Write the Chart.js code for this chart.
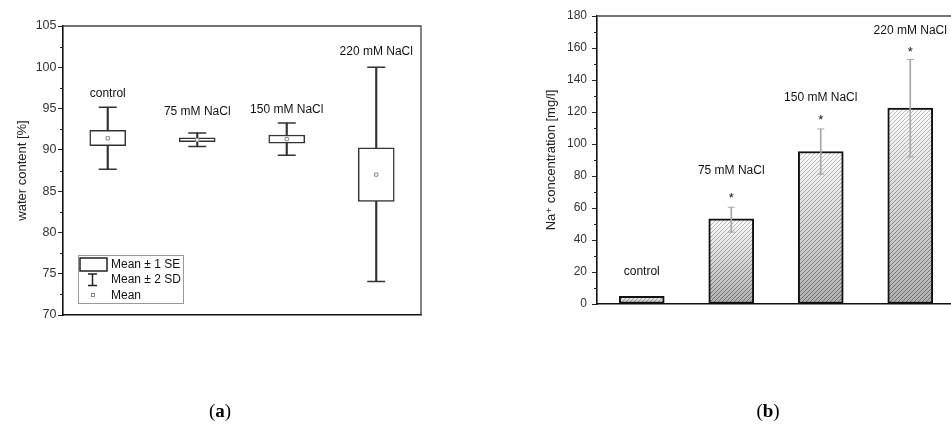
<!DOCTYPE html>
<html><head><meta charset="utf-8">
<script src="https://cdn.jsdelivr.net/npm/chart.js@4.4.1/dist/chart.umd.min.js"></script>
<style>
html,body{margin:0;padding:0;background:#fff;overflow:hidden;}
#wrap{position:relative;width:951px;height:426px;overflow:hidden;background:#fff;}
#ca{position:absolute;left:0;top:0;}
#cb{position:absolute;left:480px;top:0;}
.cap{position:absolute;top:400px;font-family:'Liberation Serif','DejaVu Serif',serif;font-size:19px;color:#000;transform:translateX(-50%);white-space:nowrap;}
</style></head><body>
<div id="wrap">
<canvas id="ca" width="470" height="426" style="width:470px;height:426px"></canvas>
<canvas id="cb" width="480" height="426" style="width:480px;height:426px"></canvas>
<div class="cap" style="left:220px">(<b>a</b>)</div>
<div class="cap" style="left:768px">(<b>b</b>)</div>
</div>
<script>
// ---------- data ----------
const categories = ['control', '75 mM NaCl', '150 mM NaCl', '220 mM NaCl'];

// panel (a): water content [%]
const waterMean   = [91.4, 91.2, 91.3, 87.0];
const waterSeLow  = [90.5, 91.0, 90.8, 83.75];
const waterSeHigh = [92.35, 91.45, 91.8, 90.25];
const waterSdLow  = [87.65, 90.4, 89.35, 74.05];
const waterSdHigh = [95.15, 92.05, 93.25, 100.0];
const waterLabelY = [96.8, 94.6, 94.85, 101.9];
const waterTicks  = [70, 75, 80, 85, 90, 95, 100, 105];
const waterMinor  = [72.5, 77.5, 82.5, 87.5, 92.5, 97.5, 102.5];
const legendLabels = ['Mean \u00b1 1 SE', 'Mean \u00b1 2 SD', 'Mean'];

// panel (b): Na+ concentration [mg/l]
const naMean    = [4.8, 53.3, 95.3, 122.5];
const naErrLow  = [null, 44.9, 81.1, 91.9];
const naErrHigh = [null, 60.5, 109.4, 152.8];
const naLabelY  = [20.4, 83.2, 128.9, 171.0];
const naStarY   = [null, 68.6, 117.3, 159.7];
const naTicks   = [0, 20, 40, 60, 80, 100, 120, 140, 160, 180];
const naMinor   = [10, 30, 50, 70, 90, 110, 130, 150, 170];

// ---------- helpers ----------
const FONT = "'Liberation Sans', Arial, 'DejaVu Sans', sans-serif";
Chart.defaults.font.family = FONT;
Chart.defaults.color = '#222';

function minorTicksPlugin(values, len) {
  return { id: 'minorTicks', afterDraw(chart) {
    const y = chart.scales.y, ctx = chart.ctx, x0 = chart.chartArea.left;
    ctx.save(); ctx.strokeStyle = '#222'; ctx.lineWidth = 1;
    values.forEach(v => {
      const p = Math.round(y.getPixelForValue(v)) + 0.5;
      ctx.beginPath(); ctx.moveTo(x0 - len, p); ctx.lineTo(x0, p); ctx.stroke();
    });
    ctx.restore();
  }};
}
function framePlugin(drawRight) {
  return { id: 'frame', afterDraw(chart) {
    const a = chart.chartArea, ctx = chart.ctx;
    ctx.save(); ctx.strokeStyle = '#444'; ctx.lineWidth = 1.3;
    ctx.beginPath(); ctx.moveTo(a.left, a.top); ctx.lineTo(a.right, a.top);
    if (drawRight) { ctx.lineTo(a.right, a.bottom); }
    ctx.stroke(); ctx.restore();
  }};
}
function labelsPlugin(texts, ys, stars, starYs) {
  return { id: 'catLabels', afterDatasetsDraw(chart) {
    const x = chart.scales.x, y = chart.scales.y, ctx = chart.ctx;
    ctx.save(); ctx.fillStyle = '#111'; ctx.textAlign = 'center';
    ctx.font = '12px ' + FONT; ctx.textBaseline = 'middle';
    texts.forEach((t, i) => ctx.fillText(t, x.getPixelForValue(i), y.getPixelForValue(ys[i])));
    if (starYs) {
      ctx.font = '13px ' + FONT; ctx.textBaseline = 'alphabetic';
      starYs.forEach((v, i) => { if (v != null) ctx.fillText('*', x.getPixelForValue(i), y.getPixelForValue(v) + 8); });
    }
    ctx.restore();
  }};
}
const legendPlugin = { id: 'boxLegend', afterDraw(chart) {
  const ctx = chart.ctx;
  ctx.save();
  ctx.strokeStyle = '#999'; ctx.lineWidth = 1;
  ctx.strokeRect(78.5, 255.5, 105, 48);
  ctx.strokeStyle = '#222'; ctx.lineWidth = 1.5;
  ctx.strokeRect(80, 258, 27, 13);
  ctx.beginPath();
  ctx.moveTo(88, 274); ctx.lineTo(97, 274);
  ctx.moveTo(92.5, 274); ctx.lineTo(92.5, 285.5);
  ctx.moveTo(88, 285.5); ctx.lineTo(97, 285.5);
  ctx.stroke();
  ctx.strokeStyle = '#888'; ctx.lineWidth = 1;
  ctx.strokeRect(91.5, 293.5, 3, 3);
  ctx.fillStyle = '#111'; ctx.font = '12px ' + FONT; ctx.textBaseline = 'middle'; ctx.textAlign = 'left';
  ctx.fillText(legendLabels[0], 111, 264.5);
  ctx.fillText(legendLabels[1], 111, 280);
  ctx.fillText(legendLabels[2], 111, 295.5);
  ctx.restore();
}};

function yAxis(min, max, ticksArr, title, titlePad, width, tickPad, fontSize) {
  return {
    min, max,
    afterBuildTicks: s => { s.ticks = ticksArr.map(v => ({ value: v })); },
    afterFit: s => { s.width = width; },
    ticks: { color: '#333', font: { size: fontSize }, padding: tickPad },
    grid: { display: true, drawOnChartArea: false, drawTicks: true, tickLength: 5, tickColor: '#222', tickWidth: 1 },
    border: { display: true, color: '#111', width: 1.6 },
    title: { display: true, text: title, color: '#222', font: { size: 13 }, padding: { top: titlePad, bottom: 0 } }
  };
}
function xAxis() {
  return {
    offset: true,
    ticks: { display: false },
    grid: { display: true, drawOnChartArea: false, drawTicks: false },
    border: { display: true, color: '#111', width: 1.6 },
    afterFit: s => { s.height = 0; }
  };
}

// ---------- panel (a) ----------
new Chart(document.getElementById('ca'), {
  type: 'bar',
  data: {
    labels: categories,
    datasets: [
      { type: 'bar', label: 'whisker', data: categories.map((c, i) => [waterSdLow[i], waterSdHigh[i]]),
        backgroundColor: '#333', borderWidth: 0, barThickness: 1.5, grouped: false, order: 5 },
      { type: 'bar', label: 'Mean \u00b1 1 SE', data: categories.map((c, i) => [waterSeLow[i], waterSeHigh[i]]),
        backgroundColor: '#ffffff', borderColor: '#333', borderWidth: 1.5, borderSkipped: false,
        barThickness: 36, grouped: false, order: 4 },
      { type: 'line', label: 'capHigh', data: waterSdHigh, showLine: false, pointStyle: 'line',
        pointRadius: 9, pointHoverRadius: 9, pointBorderColor: '#333', pointBorderWidth: 1.5, order: 2 },
      { type: 'line', label: 'capLow', data: waterSdLow, showLine: false, pointStyle: 'line',
        pointRadius: 9, pointHoverRadius: 9, pointBorderColor: '#333', pointBorderWidth: 1.5, order: 2 },
      { type: 'line', label: 'Mean', data: waterMean, showLine: false, pointStyle: 'rect',
        pointRadius: 2.3, pointHoverRadius: 2.3, pointBackgroundColor: '#fff', pointBorderColor: '#888', pointBorderWidth: 1, order: 1 }
    ]
  },
  options: {
    responsive: false, animation: false, devicePixelRatio: 1,
    layout: { padding: { top: 26, left: 0, right: 49, bottom: 111 } },
    plugins: { legend: { display: false }, tooltip: { enabled: false } },
    scales: { x: xAxis(), y: yAxis(70, 105, waterTicks, 'water content [%]', 15, 63, 1.5, 12.5) }
  },
  plugins: [minorTicksPlugin(waterMinor, 3), framePlugin(true), labelsPlugin(categories, waterLabelY), legendPlugin]
});

// ---------- panel (b) ----------
function hatchFill(ctx) {
  const chart = ctx.chart;
  if (ctx.type !== 'data' || !chart.chartArea || !chart.scales.y) return '#d0d0d0';
  const y = chart.scales.y;
  const top = y.getPixelForValue(ctx.raw), bot = y.getPixelForValue(0);
  const c = document.createElement('canvas');
  c.width = chart.width; c.height = chart.height;
  const g = c.getContext('2d');
  const bg = g.createLinearGradient(0, top, 0, bot);
  bg.addColorStop(0, '#fcfcfc'); bg.addColorStop(1, '#b2b2b2');
  g.fillStyle = bg; g.fillRect(0, 0, c.width, c.height);
  const lg = g.createLinearGradient(0, top, 0, bot);
  lg.addColorStop(0, '#bdbdbd'); lg.addColorStop(1, '#666666');
  g.strokeStyle = lg; g.lineWidth = 1;
  for (let x = -c.height; x < c.width; x += 4) {
    g.beginPath(); g.moveTo(x, c.height); g.lineTo(x + c.height, 0); g.stroke();
  }
  return chart.ctx.createPattern(c, 'no-repeat');
}

new Chart(document.getElementById('cb'), {
  type: 'bar',
  data: {
    labels: categories,
    datasets: [
      { type: 'bar', label: 'Na+', data: naMean, backgroundColor: hatchFill, borderColor: '#111',
        borderWidth: 2, borderSkipped: false, barThickness: 45, grouped: false, order: 5 },
      { type: 'bar', label: 'err', data: categories.map((c, i) => naErrLow[i] == null ? null : [naErrLow[i], naErrHigh[i]]),
        backgroundColor: '#a8a8a8', borderWidth: 0, barThickness: 1, grouped: false, order: 3 },
      { type: 'line', label: 'capHigh', data: naErrHigh, showLine: false, pointStyle: 'line',
        pointRadius: 3.5, pointHoverRadius: 3.5, pointBorderColor: '#a8a8a8', pointBorderWidth: 1, order: 1 },
      { type: 'line', label: 'capLow', data: naErrLow, showLine: false, pointStyle: 'line',
        pointRadius: 3.5, pointHoverRadius: 3.5, pointBorderColor: '#a8a8a8', pointBorderWidth: 1, order: 1 }
    ]
  },
  options: {
    responsive: false, animation: false, devicePixelRatio: 1,
    layout: { padding: { top: 16, left: 0, right: 5, bottom: 122 } },
    plugins: { legend: { display: false }, tooltip: { enabled: false } },
    scales: { x: xAxis(), y: yAxis(0, 180, naTicks, 'Na\u207a concentration [mg/l]', 64, 117, 5, 12) }
  },
  plugins: [minorTicksPlugin(naMinor, 3), framePlugin(false), labelsPlugin(categories, naLabelY, true, naStarY)]
});
</script>
</body></html>
